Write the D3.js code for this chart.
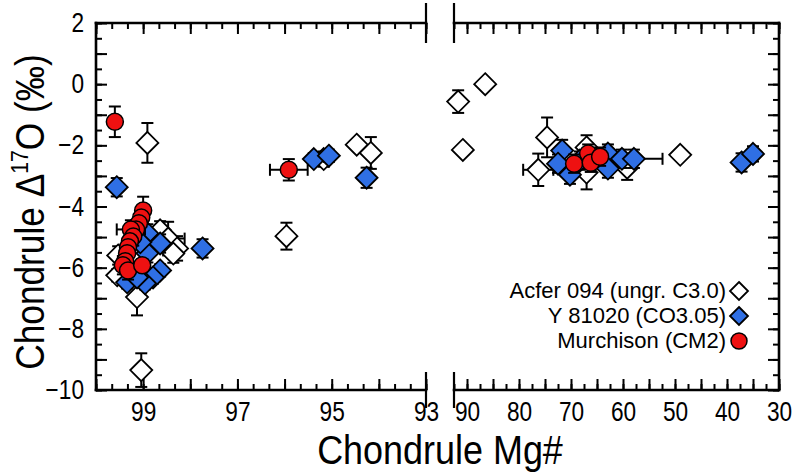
<!DOCTYPE html>
<html><head><meta charset="utf-8">
<script src="https://cdn.jsdelivr.net/npm/d3@7"></script>
<style>body{margin:0;background:#fff}</style></head><body>
<svg id="c" width="800" height="472"></svg>
<script>
// ---------- data ----------
const acferMg    = [98.91, 99.13, 99.04, 98.64, 98.47, 98.28, 98.36, 99.53, 99.55, 95.96, 94.47, 94.17, 95.17, 91.7, 86.5, 90.8, 74.6, 76.3, 67.0, 67.0, 59.2, 49.0];
const acferD17O  = [-1.92, -6.96, -9.35, -4.78, -5.05, -5.37, -5.54, -5.60, -6.25, -4.97, -1.98, -2.25, -2.45, -0.57, 0.0, -2.15, -1.74, -2.8, -2.07, -2.89, -2.73, -2.31];
const acferErr   = [0.65, 0.6, 0.55, 0.3, 0.55, 0.4, 0.3, 0.3, 0.2, 0.44, 0, 0.52, 0.25, 0.37, 0, 0, 0.65, 0.53, 0.4, 0.55, 0.4, 0];
const acferMgErr = [0, 0, 0, 0, 0.35, 0, 0, 0, 0, 0, 0, 0, 0, 0, 0, 0, 0, 2.9, 0, 0, 0, 0];

const y81020Mg    = [99.56, 98.91, 98.64, 98.91, 99.06, 98.64, 98.79, 98.96, 99.34, 99.13, 97.74, 95.38, 95.06, 94.26, 71.7, 72.5, 70.2, 68.3, 62.9, 62.9, 60.2, 57.9, 37.2, 35.0];
const y81020D17O  = [-3.37, -4.88, -5.21, -5.53, -5.17, -6.09, -6.32, -6.51, -6.48, -6.32, -5.37, -2.45, -2.34, -3.06, -2.17, -2.60, -2.96, -2.50, -2.27, -2.76, -2.44, -2.44, -2.56, -2.28];
const y81020Err   = [0.3, 0.3, 0.3, 0.3, 0.2, 0.2, 0.2, 0.2, 0.2, 0.2, 0.3, 0.2, 0.2, 0.33, 0.35, 0.3, 0.3, 0.3, 0.3, 0.3, 0.3, 0.3, 0.3, 0.25];
const y81020MgErr = [0, 0, 0, 0, 0, 0, 0, 0, 0, 0, 0, 0, 0, 0, 0, 0, 0, 0, 0, 0, 0, 5.5, 0, 0];

const murchMg    = [99.60, 95.91, 99.00, 99.04, 99.09, 99.15, 99.26, 99.21, 99.28, 99.32, 99.34, 99.38, 99.43, 99.32, 99.02, 69.4, 66.7, 66.2, 64.4];
const murchD17O  = [-1.23, -2.80, -4.13, -4.36, -4.55, -4.75, -4.75, -4.98, -5.14, -5.33, -5.53, -5.79, -5.92, -6.09, -5.92, -2.60, -2.27, -2.57, -2.37];
const murchErr   = [0.5, 0.35, 0.45, 0.3, 0.3, 0.3, 0.3, 0.3, 0.3, 0.3, 0.3, 0.3, 0.3, 0.3, 0.2, 0.3, 0.3, 0.3, 0.3];
const murchMgErr = [0, 0.4, 0, 0, 0, 0, 0.3, 0, 0, 0, 0, 0, 0, 0, 0, 0, 0, 0, 0];

const seriesNames = ["Acfer 094 (ungr. C3.0)", "Y 81020 (CO3.05)", "Murchison (CM2)"];
const leftTickLabels  = [99, 97, 95, 93];
const rightTickLabels = [90, 80, 70, 60, 50, 40, 30];
const yTickLabels     = [2, 0, -2, -4, -6, -8, -10];

// ---------- layout ----------
const svg = d3.select("#c");
const plotTop = 23, plotBottom = 390;
const L0 = 96, L1 = 426, R0 = 454, R1 = 779;
const xL = d3.scaleLinear().domain([100, 93]).range([L0, L1]);
const xR = d3.scaleLinear().domain([92.5, 30]).range([R0, R1]);
const xp = v => v > 92.5 ? xL(v) : xR(v);
const xScaleOf = v => v > 92.5 ? xL : xR;
const y = d3.scaleLinear().domain([-10, 2]).range([plotBottom, plotTop]);

const textFont = "'Liberation Sans',Arial,Helvetica,sans-serif";
const narrow = 0.84;

function styleAxis(g, isLabels, side) {
  g.select(".domain").remove();
  g.selectAll(".tick line").attr("stroke", "#000").attr("stroke-width", 2);
  g.selectAll(".tick text").attr("font-family", textFont).attr("font-size", 27).attr("fill", "#000");
  if (isLabels) {
    g.selectAll(".tick text").each(function () {
      const t = d3.select(this);
      const tx = +t.attr("x") || 0;
      // compress horizontally around the label anchor point
      t.attr("x", tx / narrow).attr("transform", `scale(${narrow},1)`);
    });
  }
}
function drawAxis(axisFn, scale, vals, size, transform, labels, pad) {
  const ax = axisFn(scale).tickValues(vals).tickSizeInner(size).tickSizeOuter(0);
  if (!labels) ax.tickFormat("");
  else ax.tickFormat(d3.format("d")).tickPadding(pad);
  const g = svg.append("g").attr("transform", transform).call(ax);
  styleAxis(g, labels);
  return g;
}

const leftMinor = d3.range(0, 22).map(i => 100 - i / 3);
const leftMajor = d3.range(100, 92.5, -1);
const rightMinor = d3.range(30, 92.6, 2.5);
const rightMajor = d3.range(30, 92.6, 5);
const yMinor = d3.range(-10, 2.01, 0.5);
const yMajor = d3.range(-10, 2.01, 1);

drawAxis(d3.axisBottom, xL, leftMinor, -6, `translate(0,${plotBottom})`, false);
drawAxis(d3.axisBottom, xL, leftMajor, -11, `translate(0,${plotBottom})`, false);
drawAxis(d3.axisTop, xL, leftMinor, -6, `translate(0,${plotTop})`, false);
drawAxis(d3.axisTop, xL, leftMajor, -11, `translate(0,${plotTop})`, false);
drawAxis(d3.axisBottom, xL, leftTickLabels, 0, `translate(0,${plotBottom})`, true, 12);
drawAxis(d3.axisBottom, xR, rightMinor, -6, `translate(0,${plotBottom})`, false);
drawAxis(d3.axisBottom, xR, rightMajor, -11, `translate(0,${plotBottom})`, false);
drawAxis(d3.axisTop, xR, rightMinor, -6, `translate(0,${plotTop})`, false);
drawAxis(d3.axisTop, xR, rightMajor, -11, `translate(0,${plotTop})`, false);
drawAxis(d3.axisBottom, xR, rightTickLabels, 0, `translate(0,${plotBottom})`, true, 12);
drawAxis(d3.axisLeft, y, yMinor, -6, `translate(${L0},0)`, false);
drawAxis(d3.axisLeft, y, yMajor, -11, `translate(${L0},0)`, false);
drawAxis(d3.axisLeft, y, yTickLabels, 0, `translate(${L0},0)`, true, 12);
drawAxis(d3.axisRight, y, yMinor, -6, `translate(${R1},0)`, false);
drawAxis(d3.axisRight, y, yMajor, -11, `translate(${R1},0)`, false);

// frame
const frame = svg.append("g").attr("stroke", "#000").attr("stroke-width", 2.6).attr("fill", "none").attr("stroke-linecap", "square");
[[L0, L1], [R0, R1]].forEach(([a, b]) => {
  frame.append("line").attr("x1", a).attr("x2", b).attr("y1", plotTop).attr("y2", plotTop);
  frame.append("line").attr("x1", a).attr("x2", b).attr("y1", plotBottom).attr("y2", plotBottom);
});
frame.append("line").attr("x1", L0).attr("x2", L0).attr("y1", plotTop).attr("y2", plotBottom);
frame.append("line").attr("x1", R1).attr("x2", R1).attr("y1", plotTop).attr("y2", plotBottom);
const brk = svg.append("g").attr("stroke", "#000").attr("stroke-width", 2.2).attr("stroke-linecap", "butt");
[L1, R0].forEach(x => {
  brk.append("line").attr("x1", x).attr("x2", x).attr("y1", plotTop - 20).attr("y2", plotTop + 20);
  brk.append("line").attr("x1", x).attr("x2", x).attr("y1", plotBottom - 18).attr("y2", plotBottom + 18);
});

// ---------- data marks ----------
function drawSeries(mg, d, err, mgErr, kind, fill) {
  const g = svg.append("g");
  const idx = d3.range(mg.length);
  const eb = g.append("g").attr("stroke", "#000").attr("stroke-width", 2);
  idx.forEach(i => {
    const cx = xp(mg[i]), cy = y(d[i]);
    if (err[i] > 0) {
      const y1 = y(d[i] + err[i]), y2 = y(d[i] - err[i]);
      eb.append("line").attr("x1", cx).attr("x2", cx).attr("y1", y1).attr("y2", y2);
      eb.append("line").attr("x1", cx - 6).attr("x2", cx + 6).attr("y1", y1).attr("y2", y1);
      eb.append("line").attr("x1", cx - 6).attr("x2", cx + 6).attr("y1", y2).attr("y2", y2);
    }
    if (mgErr[i] > 0) {
      const s = xScaleOf(mg[i]);
      const x1 = s(mg[i] + mgErr[i]), x2 = s(mg[i] - mgErr[i]);
      eb.append("line").attr("x1", x1).attr("x2", x2).attr("y1", cy).attr("y2", cy);
      eb.append("line").attr("x1", x1).attr("x2", x1).attr("y1", cy - 6).attr("y2", cy + 6);
      eb.append("line").attr("x1", x2).attr("x2", x2).attr("y1", cy - 6).attr("y2", cy + 6);
    }
  });
  idx.forEach(i => {
    const cx = xp(mg[i]), cy = y(d[i]);
    if (kind === "diamond") {
      const h = 11;
      g.append("path").attr("d", `M${cx},${cy - h}L${cx + h},${cy}L${cx},${cy + h}L${cx - h},${cy}Z`)
        .attr("fill", fill).attr("stroke", "#000").attr("stroke-width", 1.8).attr("stroke-linejoin", "miter");
    } else {
      g.append("circle").attr("cx", cx).attr("cy", cy).attr("r", 8.5)
        .attr("fill", fill).attr("stroke", "#000").attr("stroke-width", 1.5);
    }
  });
}
const colWhite = "#ffffff", colBlue = "#2f6fe4", colRed = "#ee1111";
drawSeries(acferMg, acferD17O, acferErr, acferMgErr, "diamond", colWhite);
drawSeries(y81020Mg, y81020D17O, y81020Err, y81020MgErr, "diamond", colBlue);
drawSeries(murchMg, murchD17O, murchErr, murchMgErr, "circle", colRed);

// ---------- legend ----------
const leg = svg.append("g");
const legKinds = ["diamond", "diamond", "circle"], legFills = [colWhite, colBlue, colRed];
seriesNames.forEach((name, i) => {
  const ly = 291 + i * 25;
  leg.append("text").attr("x", 726).attr("y", ly + 7).attr("text-anchor", "end")
    .attr("font-family", textFont).attr("font-size", 22).text(name);
  if (legKinds[i] === "diamond") {
    const cx = 739, h = 9;
    leg.append("path").attr("d", `M${cx},${ly - h}L${cx + h},${ly}L${cx},${ly + h}L${cx - h},${ly}Z`)
      .attr("fill", legFills[i]).attr("stroke", "#000").attr("stroke-width", 1.8);
  } else {
    leg.append("circle").attr("cx", 739).attr("cy", ly).attr("r", 8).attr("fill", legFills[i]).attr("stroke", "#000").attr("stroke-width", 1.5);
  }
});

// ---------- axis titles ----------
svg.append("text").attr("transform", `translate(440,464) scale(${narrow * 1.07},1)`).attr("text-anchor", "middle")
  .attr("font-family", textFont).attr("font-size", 40).text("Chondrule Mg#");
const yt = svg.append("text").attr("transform", `translate(44,212) rotate(-90) scale(${narrow * 1.05},1)`).attr("text-anchor", "middle")
  .attr("font-family", textFont).attr("font-size", 40);
yt.append("tspan").text("Chondrule Δ");
yt.append("tspan").attr("font-size", 24).attr("dy", -16).text("17");
yt.append("tspan").attr("dy", 16).text("O (‰)");
</script>
</body></html>
